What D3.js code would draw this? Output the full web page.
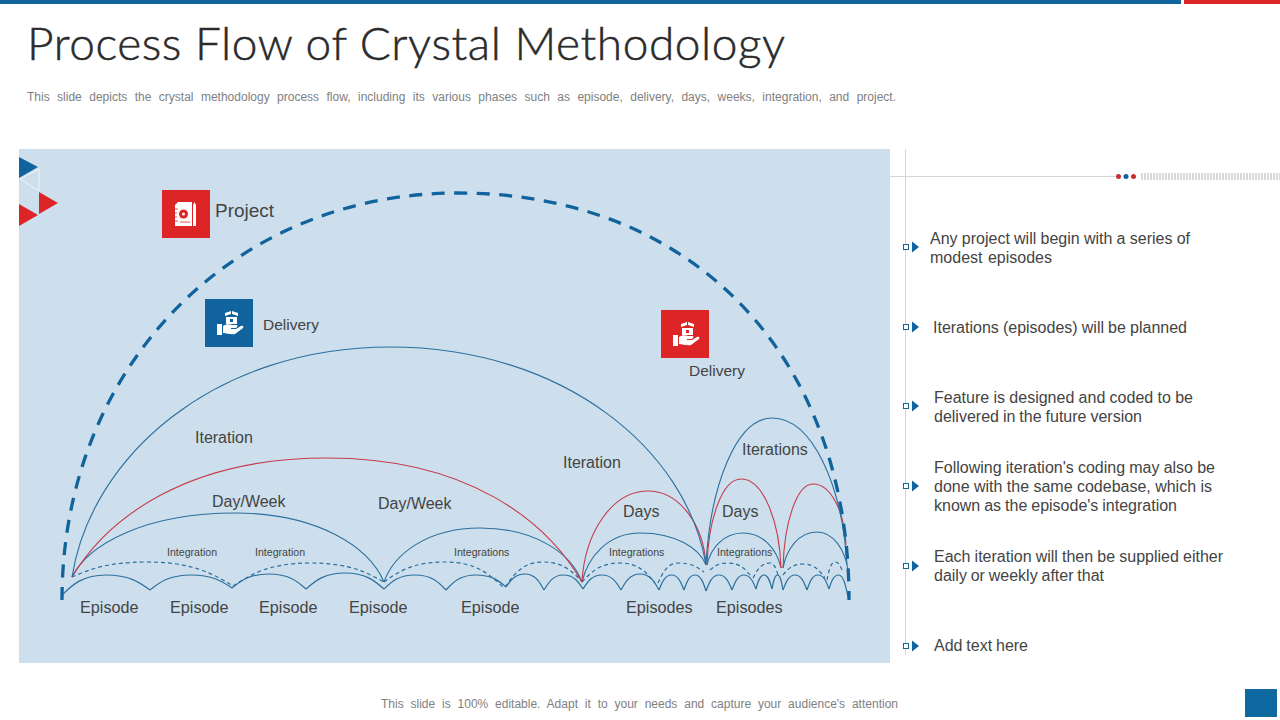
<!DOCTYPE html>
<html><head><meta charset="utf-8">
<script src="https://cdn.jsdelivr.net/npm/d3@7"></script>
<style>html,body{margin:0;padding:0;background:#fff;overflow:hidden}svg{display:block}text{font-family:"Liberation Sans",Arial,sans-serif}</style>
</head><body><svg id="c" width="1280" height="720"></svg>
<script>
// Arc values: [start position, peak position, end position, start height, peak height, end height]
const projectArc = [[0,396,787,0,407,0]];
const deliveryArcs = [[10,328,644,23,253,35],[644,710,785,35,182,35]];
const longRedArc = [[10,265,520,23,142,18]];
const redIterationArcs = [[520,586,644,18,109,35],[645,679,719,35,121,32],[721,751,784,32,116,55]];
const dayWeekArcs = [[10,173,322,23,87,18],[322,418,520,18,72,18],[520,578,644,18,67,35],[645,681,719,35,67,32],[721,755,786,32,68,30]];
const integrationArcs = [[10,85,171,23,38,14],[171,248,322,14,37,18],[322,383,441,18,38,13],[443,481,520,13,38,18],[520,558,593,18,37,17],[596,616,642,17,37,28],[648,666,688,30,37,25],[691,708,716,22,37,25],[721,741,763,25,36,22],[765,773,780,20,38,30]];
const episodeEdges = [0,88,170,244,322,384,444,482,521,559,597,622,644,670,694,710,721,745,767,786];
const episodeEdgeHeights = [5,10,12,11,11,10,13,10,11,10,10,10,9,10,11,11,10,10,11,3];
const episodePeaks = [25,25,26,27,25,25,26,25,25,26,25,25,25,25,25,25,25,25,25];

const labelTexts = ["Project","Delivery","Delivery","Iteration","Iteration","Iterations","Day/Week","Day/Week","Days","Days"];
const labelPositions = [153,201,627,133,501,680,150,316,561,660];
const labelHeights = [383,270,224,157,132,145,93,91,83,83];
const smallLabels = ["Integration","Integration","Integrations","Integrations","Integrations"];
const smallPositions = [105,193,392,547,655];
const episodeLabels = ["Episode","Episode","Episode","Episode","Episode","Episodes","Episodes"];
const episodePositions = [18,108,197,287,399,564,654];

const bulletLines = [
 ["Any project will begin with a series of","modest episodes"],
 ["Iterations (episodes) will be planned"],
 ["Feature is designed and coded to be","delivered in the future version"],
 ["Following iteration's coding may also be","done with the same codebase, which is","known as the episode's integration"],
 ["Each iteration will then be supplied either","daily or weekly after that"],
 ["Add text here"]];
const titleText = "Process Flow of Crystal Methodology";
const subtitleText = "This slide depicts the crystal methodology process flow, including its various phases such as episode, delivery, days, weeks, integration, and project.";
const footerText = "This slide is 100% editable. Adapt it to your needs and capture your audience's attention";

const BLUE="#10639c", RED="#dd2527", LINE="#2c6f9e", THINRED="#c53a4b", INK="#444444";
const svg = d3.select("#c");
const x = d3.scaleLinear().domain([0,787]).range([62,849]);
const y = d3.scaleLinear().domain([0,407]).range([600,193]);

function fit(sel, width){
  sel.each(function(){
    const t=d3.select(this), txt=t.text(), n=(txt.match(/ /g)||[]).length;
    if(!n) return;
    const len=this.getComputedTextLength();
    t.attr("word-spacing",(width-len)/n);
  });
}

// top bars & panel
svg.append("rect").attr("x",0).attr("y",0).attr("width",1181).attr("height",4).attr("fill",BLUE);
svg.append("rect").attr("x",1184).attr("y",0).attr("width",96).attr("height",4).attr("fill",RED);
svg.append("rect").attr("x",19).attr("y",149).attr("width",871).attr("height",514).attr("fill","#cddfec");
svg.append("rect").attr("x",1245).attr("y",689).attr("width",32).attr("height",28).attr("fill","#0f689f");

svg.append("text").attr("x",27).attr("y",60).attr("font-size",46).attr("fill","#2b2b2b")
  .attr("stroke","#2b2b2b").attr("stroke-width",.5)
  .style("font-family","Lato").style("font-weight",300).attr("textLength",758).attr("lengthAdjust","spacing").text(titleText);
fit(svg.append("text").attr("x",27).attr("y",101).attr("font-size",12).attr("fill","#808080").text(subtitleText),869);
fit(svg.append("text").attr("x",381).attr("y",708).attr("font-size",12).attr("fill","#808080").text(footerText),517);

// corner triangles
const tri=(p,fill,stroke)=>svg.append("path").attr("d","M"+p.join("L")+"Z").attr("fill",fill).attr("stroke",stroke||"none").attr("stroke-width",1);
tri([[19,157],[38,167],[19,178]],BLUE);
tri([[39,169],[20,179],[39,191]],"none","#eef4f8");
tri([[39,192],[58,203],[39,214]],RED);
tri([[19,204],[38,215],[19,226]],RED);

// arcs
function arcPath(d,s,kL,kR){
  const [a,p,b,h0,hp,h1]=d, X0=x(a),PX=x(p),X1=x(b),Y0=y(h0),PY=y(hp),Y1=y(h1);
  const seg=(xs,ys,wSign,k)=>{
    const w=Math.abs(PX-xs),h=ys-PY;
    return [xs+wSign*(1-s)*.4*w, ys-(s*k+(1-s)*.4)*h];
  };
  const c1=seg(X0,Y0,1,kL), c4=seg(X1,Y1,-1,kR);
  const m=d3.path();
  m.moveTo(X0,Y0);
  m.bezierCurveTo(c1[0],c1[1],PX-kL*(PX-X0),PY,PX,PY);
  m.bezierCurveTo(PX+kR*(X1-PX),PY,c4[0],c4[1],X1,Y1);
  return m.toString();
}
const arcs=(cls,data,s,stroke,w,dash,kL,kR)=>svg.append("g").attr("class",cls).selectAll("path").data(data).join("path")
  .attr("d",d=>arcPath(d,s,kL||.55,kR||.55)).attr("fill","none").attr("stroke",stroke).attr("stroke-width",w).attr("stroke-dasharray",dash||null);

const episodeArcs=episodePeaks.map((h,i)=>[episodeEdges[i],(episodeEdges[i]+episodeEdges[i+1])/2,episodeEdges[i+1],episodeEdgeHeights[i],h,episodeEdgeHeights[i+1]]);
arcs("episodes",episodeArcs,.45,LINE,1.2);
arcs("integrations",integrationArcs,.45,LINE,1.2,"4 3");
arcs("dayweek",dayWeekArcs,.75,LINE,1.1);
arcs("rediter",longRedArc,.65,THINRED,1.1);
arcs("rediter",redIterationArcs,.9,THINRED,1.1);
arcs("delivery",deliveryArcs,.85,LINE,1.1);
arcs("project",projectArc,1,BLUE,3.3,"13 9.5",.57,.6);

// icon tiles
const tile=(tx,ty,fill)=>svg.append("g").attr("transform",`translate(${tx},${ty})`).call(g=>g.append("rect").attr("width",48).attr("height",48).attr("fill",fill));
function handIcon(g,fill){
  g.append("path").attr("fill","#fff").attr("d","M12 25h5v11h-5zM18 27c3-2 6-2 9-1h5c1 1 0 3-2 3h-4v1h5l5-3c2-1 3 1 2 2l-8 6c-4 1-8-1-12-1z");
  g.append("path").attr("fill","#fff").attr("d","M20 14l6-2v3l-6 2zM27 12l6 2v3l-6-2zM21 18h11v7h-11z");
  g.append("rect").attr("x",25).attr("y",20).attr("width",3).attr("height",3).attr("fill",fill);
}
const proj=tile(162,190,RED);
proj.append("path").attr("fill","#fff").attr("d","M16 12h14v24H13V15zM31 15l1.5-3 1.5 3v21h-3z");
proj.append("circle").attr("cx",21.5).attr("cy",24).attr("r",4.5).attr("fill",RED);
proj.append("circle").attr("cx",21.5).attr("cy",24).attr("r",1.5).attr("fill","#fff");
proj.append("path").attr("stroke",RED).attr("stroke-width",.8).attr("d","M13 19h3M13 23h2M13 27h2M13 31h3M18 32h10");
handIcon(tile(205,299,BLUE),BLUE);
handIcon(tile(661,310,RED),RED);

// chart labels
const lblSize=[19,15.5,15.5,16,16,16,16,16,16,16];
svg.append("g").selectAll("text").data(labelTexts).join("text")
  .attr("x",(d,i)=>x(labelPositions[i])).attr("y",(d,i)=>y(labelHeights[i])).attr("font-size",(d,i)=>lblSize[i]).attr("fill",INK).text(d=>d);
svg.append("g").selectAll("text").data(smallLabels).join("text")
  .attr("x",(d,i)=>x(smallPositions[i])).attr("y",y(44)).attr("font-size",10.6).attr("fill",INK).text(d=>d);
svg.append("g").selectAll("text").data(episodeLabels).join("text")
  .attr("x",(d,i)=>x(episodePositions[i])).attr("y",y(-13)).attr("font-size",16.2).attr("fill",INK).text(d=>d);

// right column
svg.append("line").attr("x1",905.5).attr("x2",905.5).attr("y1",149).attr("y2",655).attr("stroke","#d6d6d6");
svg.append("line").attr("x1",890).attr("x2",1116).attr("y1",176.5).attr("y2",176.5).attr("stroke","#d6d6d6");
[[1118.5,"#c5303c"],[1126,BLUE],[1133.5,"#c5303c"]].forEach(([cx,f])=>svg.append("circle").attr("cx",cx).attr("cy",176.5).attr("r",2.5).attr("fill",f));
svg.append("line").attr("x1",1141).attr("x2",1280).attr("y1",176.5).attr("y2",176.5).attr("stroke","#d9d9d9").attr("stroke-width",7).attr("stroke-dasharray","2 1");

const bulletY=[247,327,406,486,566,646];
const textX=[930,933,934,934,934,934];
const firstBase=[244,333,403,473,562,651];
const lineW=[[260,122],[254],[259,208],[281,278,243],[289,170],[94]];
bulletLines.forEach((lines,i)=>{
  svg.append("rect").attr("x",903.5).attr("y",bulletY[i]-2.5).attr("width",5).attr("height",5).attr("fill","#fff").attr("stroke",BLUE).attr("stroke-width",1);
  tri([[912,bulletY[i]-5.5],[919,bulletY[i]],[912,bulletY[i]+5.5]],BLUE);
  lines.forEach((l,j)=>fit(svg.append("text").attr("x",textX[i]).attr("y",firstBase[i]+j*19).attr("font-size",16).attr("fill",INK).text(l),lineW[i][j]));
});
</script></body></html>
